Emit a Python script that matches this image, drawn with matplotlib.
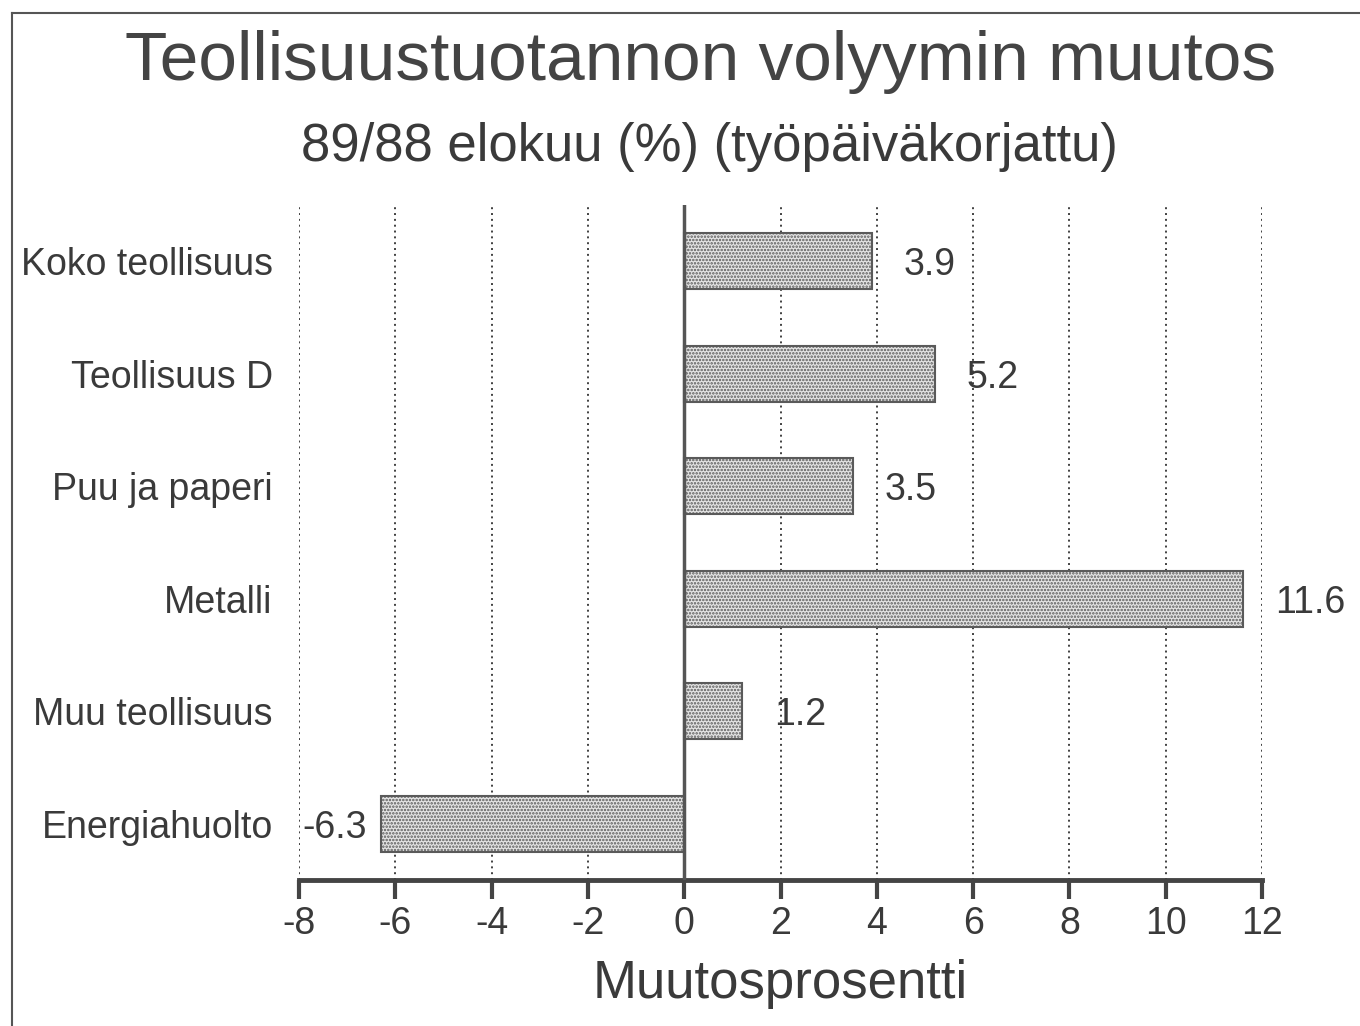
import matplotlib
matplotlib.use('Agg')
import matplotlib.pyplot as plt
from matplotlib.lines import Line2D

KATEGORIAT = ["Koko teollisuus", "Teollisuus D", "Puu ja paperi", "Metalli",
              "Muu teollisuus", "Energiahuolto"]
MUUTOS = [3.9, 5.2, 3.5, 11.6, 1.2, -6.3]
X_TICKS = [-8, -6, -4, -2, 0, 2, 4, 6, 8, 10, 12]

TEKSTI = '#3a3a3a'
plt.rcParams['font.family'] = ['Liberation Sans', 'DejaVu Sans']
plt.rcParams['hatch.linewidth'] = 1.2


def main():
    fig = plt.figure(figsize=(13.6, 10.26), dpi=100)
    ax = fig.add_axes([0.2199, 0.1423, 0.708, 0.658])

    y = list(range(len(KATEGORIAT)))
    bars = ax.barh(y, MUUTOS, height=0.5, color='#e4e4e4', edgecolor='#5a5a5a',
                   hatch='.....', linewidth=1.5, zorder=3)

    for b, v in zip(bars, MUUTOS):
        yc = b.get_y() + b.get_height() / 2
        if v >= 0:
            ax.annotate(f"{v:.1f}", (v, yc), xytext=(32, -4), textcoords='offset pixels',
                        ha='left', va='center', fontsize=27, color=TEKSTI)
        else:
            ax.annotate(f"{v:.1f}", (v, yc), xytext=(-14, -4), textcoords='offset pixels',
                        ha='right', va='center', fontsize=27, color=TEKSTI)

    ax.set_xlim(-8, 12)
    ax.set_ylim(5.5, -0.5)
    ax.set_xticks(X_TICKS)
    ax.set_xticklabels([str(t) for t in X_TICKS])
    ax.set_yticks(y)
    ax.set_yticklabels(KATEGORIAT)

    for t in X_TICKS:
        if t != 0:
            ax.axvline(t, color='#404040', linestyle=(0, (1, 2)), linewidth=1.4, zorder=1)
    ax.axvline(0, color='#555555', linewidth=2.5, zorder=4)

    for s in ['left', 'top', 'right']:
        ax.spines[s].set_visible(False)
    ax.spines['bottom'].set_linewidth(3.5)
    ax.spines['bottom'].set_color('#444444')

    ax.tick_params(axis='x', direction='out', length=14, width=3, color='#444444',
                   labelsize=27, labelcolor=TEKSTI, pad=5)
    ax.tick_params(axis='y', length=0, labelsize=27, labelcolor=TEKSTI, pad=19)

    ax.set_xlabel('Muutosprosentti', fontsize=38, color=TEKSTI, labelpad=12)

    fig.text(0.515, 0.94, 'Teollisuustuotannon volyymin muutos', ha='center', va='center',
             fontsize=50, color='#444444')
    fig.text(0.522, 0.857, '89/88 elokuu (%) (työpäiväkorjattu)', ha='center', va='center',
             fontsize=38, color=TEKSTI)

    # kehys
    fig.add_artist(Line2D([0.009, 0.009], [0.0, 0.987], color='#555555', linewidth=1.5))
    fig.add_artist(Line2D([0.009, 1.0], [0.987, 0.987], color='#555555', linewidth=1.5))

    fig.savefig('out.png', dpi=100, facecolor='white')


if __name__ == '__main__':
    main()
